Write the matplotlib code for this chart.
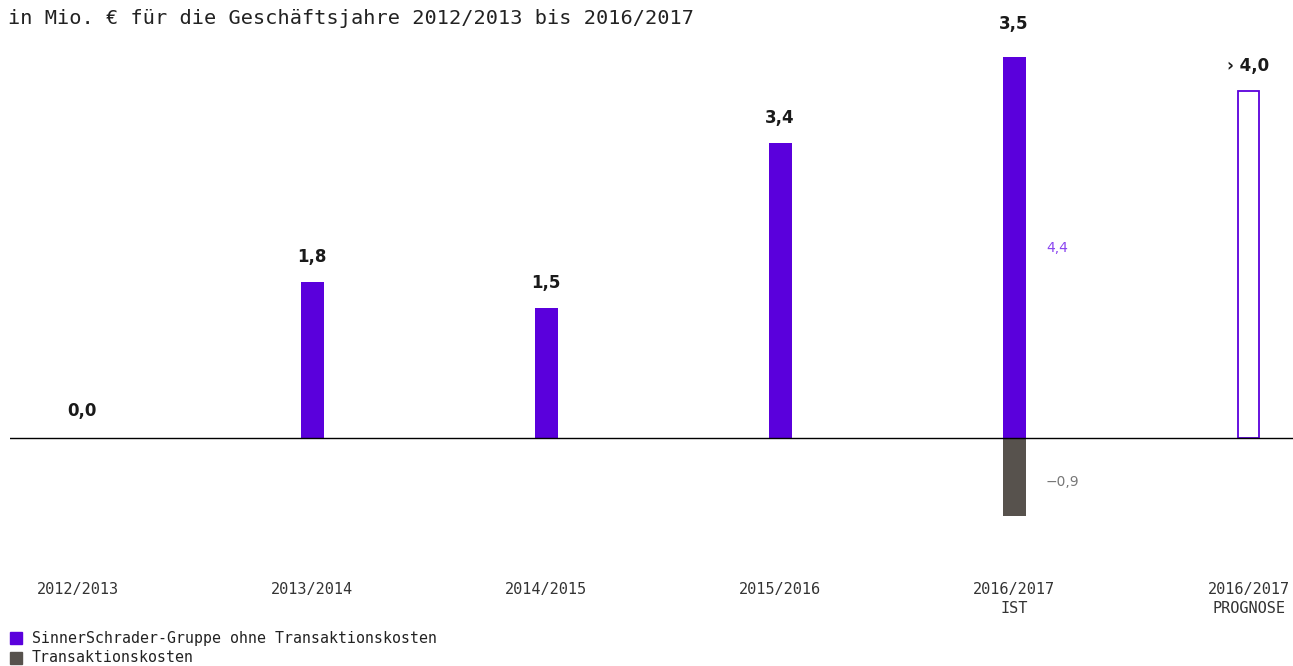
import matplotlib
matplotlib.use("Agg")
import matplotlib.pyplot as plt

categories = ["2012/2013", "2013/2014", "2014/2015", "2015/2016", "2016/2017\nIST", "2016/2017\nPROGNOSE"]
values_main = [0.0, 1.8, 1.5, 3.4, 4.4, 4.0]
values_trans = [0.0, 0.0, 0.0, 0.0, -0.9, 0.0]
value_labels = ["0,0", "1,8", "1,5", "3,4", "3,5", "› 4,0"]
forecast = [False, False, False, False, False, True]
component_labels = ["4,4", "−0,9"]
subtitle = "in Mio. € für die Geschäftsjahre 2012/2013 bis 2016/2017"
legend_labels = ["SinnerSchrader-Gruppe ohne Transaktionskosten", "Transaktionskosten"]

PURPLE = "#5A00DC"
GRAY = "#57524D"
LIGHTPURPLE = "#8A45F0"
TXT = "#1a1a1a"

W, H = 1293, 666
fig = plt.figure(figsize=(W / 100, H / 100), dpi=100)

ax_left, ax_right = 10, 1293
ax_top, ax_bottom = 0, 545
ax = fig.add_axes([ax_left / W, 1 - ax_bottom / H, (ax_right - ax_left) / W, (ax_bottom - ax_top) / H])
pxu = 86.7
base = 438
ax.set_ylim(-(ax_bottom - base) / pxu, (base - ax_top) / pxu)
spacing = 234.0
x0 = 78
ax.set_xlim((ax_left - x0) / spacing, (ax_right - x0) / spacing)
ax.axis("off")

xs = list(range(len(categories)))
bw = 23 / spacing
for i, x in enumerate(xs):
    v = values_main[i]
    if forecast[i]:
        ax.bar(x, v, width=21 / spacing, facecolor="white", edgecolor=PURPLE, linewidth=1.3, zorder=2)
    elif v != 0:
        ax.bar(x, v, width=bw, color=PURPLE, zorder=2, linewidth=0)
    t = values_trans[i]
    if t != 0:
        ax.bar(x, t, width=bw, color=GRAY, zorder=2, linewidth=0)

ax.axhline(0, color="black", lw=1.0, zorder=3)

for i, x in enumerate(xs):
    top = values_main[i]
    off = 33 if values_trans[i] != 0 else 25
    ylab = top + off / pxu
    dx = 0
    if top == 0:
        ylab = 27 / pxu
        dx = 4 / spacing
    ax.text(x + dx, ylab, value_labels[i], ha="center", va="center",
            fontsize=12, fontweight="bold", color=TXT, family="DejaVu Sans")

i_ist = 4
ax.text(xs[i_ist] + 32 / spacing, values_main[i_ist] - (246 - 55) / pxu, component_labels[0],
        ha="left", va="center", fontsize=10, color=LIGHTPURPLE, family="DejaVu Sans")
ax.text(xs[i_ist] + 32 / spacing, -(482 - base) / pxu, component_labels[1],
        ha="left", va="center", fontsize=10, color="#777777", family="DejaVu Sans")

for i, c in enumerate(categories):
    xp = x0 + i * spacing
    if i == 5:
        xp = 1249
    fig.text(xp / W, 1 - 582 / H, c, ha="center", va="top", fontsize=11, color="#333333",
             family="DejaVu Sans Mono", linespacing=1.35)

fig.text(8 / W, 1 - 19 / H, subtitle, ha="left", va="center", fontsize=14.6, color="#222222",
         family="DejaVu Sans Mono")

for j, (lab, col) in enumerate(zip(legend_labels, [PURPLE, GRAY])):
    yc = 638 + j * 20
    fig.patches.append(plt.Rectangle((10 / W, 1 - (yc + 6) / H), 12 / W, 12 / H,
                                     transform=fig.transFigure, color=col, figure=fig))
    fig.text(32 / W, 1 - yc / H, lab, ha="left", va="center", fontsize=10.7, color="#222222",
             family="DejaVu Sans Mono")

fig.savefig("out.png", dpi=100)
